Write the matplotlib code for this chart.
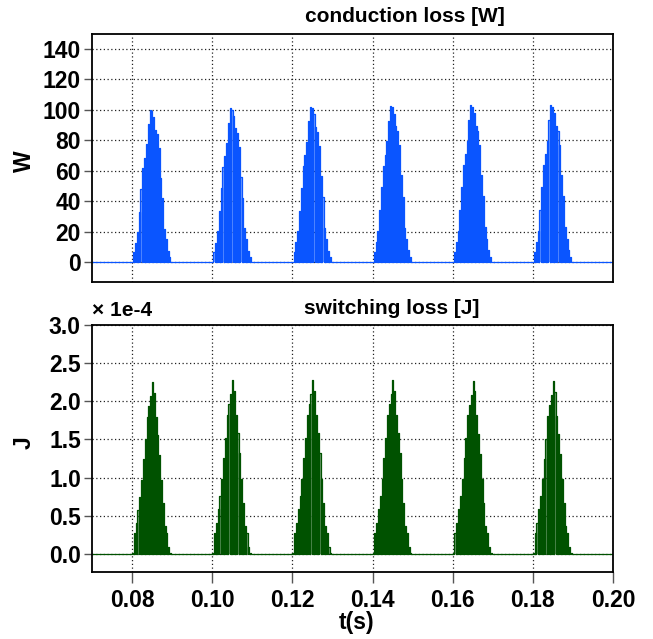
import numpy as np
import matplotlib
matplotlib.use("Agg")
import matplotlib.pyplot as plt

plt.rcParams['font.family'] = ['Liberation Sans', 'DejaVu Sans']
plt.rcParams['font.weight'] = 'bold'

# pulse start times (s) and switching period used for the spike train
pulse_starts = [0.080, 0.100, 0.120, 0.140, 0.160, 0.180]
spike_period = 0.45e-3

# conduction loss spike heights for one pulse (W)
cond_template = [6.6, 12.7, 20, 33, 47.6, 61, 68, 76.5, 89.6, 98.8, 98,
                 94, 86, 83, 74, 55, 41.5, 22, 15, 7.6, 3.3]
cond_peaks = [100, 101, 102, 102.5, 103, 103]

# switching loss spike heights for one pulse (x 1e-4 J)
sw_template = [0.01, 0.27, 0.40, 0.58, 0.75, 0.97, 1.24, 1.50, 1.80, 1.94,
               2.07, 2.25, 2.11, 1.80, 1.56, 1.30, 0.97, 0.66, 0.36, 0.27,
               0.09, 0.01]
sw_peaks = [2.25, 2.28, 2.28, 2.28, 2.27, 2.26]
sw_scale = 1e-4

t_range = (0.07, 0.20)


def spike_train(template, peaks, offset, duty):
    # stepped signal: zero outside, rectangular spikes inside pulses
    t = [t_range[0]]
    y = [0.0]
    tmax = max(template)
    for start, pk in zip(pulse_starts, peaks):
        for k, h in enumerate(template):
            hk = h * pk / tmax
            t0 = start + offset + k * spike_period
            t1 = t0 + duty * spike_period
            t += [t0, t0, t1, t1]
            y += [0.0, hk, hk, 0.0]
    t.append(t_range[1])
    y.append(0.0)
    return np.array(t), np.array(y)


fig = plt.figure(figsize=(6.53, 6.39), dpi=100)
W, H = 653.0, 639.0
ax1 = fig.add_axes([92 / W, 1 - 282 / H, 521 / W, 248 / H])
ax2 = fig.add_axes([92 / W, 1 - 572 / H, 521 / W, 247 / H])

blue = '#0a55ff'
green = '#005200'

t1, y1 = spike_train(cond_template, cond_peaks, 0.3e-3, 0.6)
ax1.fill_between(t1, y1, color=blue, alpha=0.45, lw=0)
ax1.plot(t1, y1, color=blue, lw=0.9)

t2, y2 = spike_train(sw_template, [p * sw_scale for p in sw_peaks], 0.0, 0.6)
ax2.fill_between(t2, y2 / sw_scale, color=green, alpha=0.45, lw=0)
ax2.plot(t2, y2 / sw_scale, color=green, lw=0.9)

xticks = [0.08, 0.10, 0.12, 0.14, 0.16, 0.18, 0.20]
for ax in (ax1, ax2):
    ax.set_xlim(*t_range)
    ax.set_xticks(xticks)
    ax.grid(True, color='#222222', linestyle=(0, (1, 2)), lw=0.9)
    ax.set_axisbelow(True)
    for s in ax.spines.values():
        s.set_color('black')
        s.set_linewidth(1.3)
    ax.tick_params(axis='y', direction='out', length=6, width=1,
                   color='#555555', labelsize=16.5, pad=2)

ax1.set_ylim(-12.8, 149.8)
ax1.set_yticks(np.arange(0, 141, 20))
ax1.tick_params(axis='x', length=0, labelbottom=False)

ax2.set_ylim(-0.239, 2.995)
ax2.set_yticks(np.arange(0, 3.01, 0.5))
ax2.set_yticklabels(['%.1f' % v for v in np.arange(0, 3.01, 0.5)])
ax2.tick_params(axis='x', direction='out', length=8, width=1,
                color='#555555', labelsize=16.5, pad=4)

fig.text(405 / W, 1 - 16 / H, 'conduction loss [W]', ha='center', va='center',
         fontsize=15, fontweight='bold')
fig.text(392 / W, 1 - 308 / H, 'switching loss [J]', ha='center', va='center',
         fontsize=15, fontweight='bold')
fig.text(92 / W, 1 - 311 / H, '\u00d7 1e-4', ha='left', va='center',
         fontsize=15, fontweight='bold')
fig.text(24 / W, 1 - 161 / H, 'W', ha='center', va='center', rotation=90,
         fontsize=16.5, fontweight='bold')
fig.text(24 / W, 1 - 443 / H, 'J', ha='center', va='center', rotation=90,
         fontsize=16.5, fontweight='bold')
fig.text(357 / W, 1 - 623 / H, 't(s)', ha='center', va='center',
         fontsize=16.5, fontweight='bold')

fig.savefig('out.png', dpi=100)
